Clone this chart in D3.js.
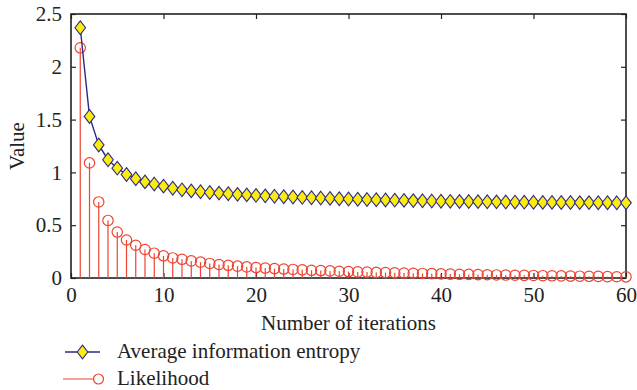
<!DOCTYPE html>
<html>
<head>
<meta charset="utf-8">
<script src="https://cdn.jsdelivr.net/npm/d3@7"></script>
<style>
  body { margin: 0; background: #fff; }
  svg text { font-family: "Liberation Serif", "DejaVu Serif", serif; fill: #222; }
</style>
</head>
<body>
<div id="chart"></div>
<script>
// values, iteration 1..60
var iterations = d3.range(1, 61);
var entropy = [2.37, 1.53, 1.26, 1.12, 1.04, 0.98, 0.94, 0.91, 0.89, 0.87,
               0.85, 0.835, 0.825, 0.817, 0.81, 0.804, 0.798, 0.792, 0.787, 0.782,
               0.778, 0.774, 0.770, 0.767, 0.763, 0.760, 0.757, 0.754, 0.751, 0.748,
               0.746, 0.743, 0.741, 0.739, 0.737, 0.735, 0.733, 0.731, 0.729, 0.727,
               0.726, 0.725, 0.724, 0.723, 0.722, 0.721, 0.720, 0.719, 0.718, 0.717,
               0.716, 0.716, 0.715, 0.715, 0.714, 0.714, 0.713, 0.713, 0.712, 0.712];
var likelihood = [2.18, 1.09, 0.72, 0.545, 0.435, 0.36, 0.31, 0.27, 0.235, 0.21,
                  0.19, 0.177, 0.162, 0.15, 0.138, 0.128, 0.12, 0.112, 0.105, 0.099,
                  0.094, 0.089, 0.085, 0.081, 0.077, 0.073, 0.070, 0.067, 0.064, 0.061,
                  0.058, 0.056, 0.053, 0.051, 0.049, 0.047, 0.045, 0.043, 0.041, 0.039,
                  0.037, 0.035, 0.034, 0.032, 0.031, 0.029, 0.028, 0.026, 0.025, 0.024,
                  0.022, 0.021, 0.020, 0.018, 0.017, 0.016, 0.015, 0.013, 0.012, 0.011];
var xTicks = [0, 10, 20, 30, 40, 50, 60];
var yTicks = [0, 0.5, 1, 1.5, 2, 2.5];
var seriesNames = ["Average information entropy", "Likelihood"];

var width = 637, height = 390;
var margin = {top: 14, right: 11, bottom: 112, left: 71};
var plotW = width - margin.left - margin.right,
    plotH = height - margin.top - margin.bottom;

var blue = "#2c2a86", yellow = "#fbeb0f", red = "#ee4330";
var fs = "21px";

var svg = d3.select("#chart").append("svg")
    .attr("width", width)
    .attr("height", height);

var g = svg.append("g")
    .attr("transform", "translate(" + margin.left + "," + margin.top + ")");

var x = d3.scaleLinear().domain([0, 60]).range([0, plotW]);
var y = d3.scaleLinear().domain([0, 2.5]).range([plotH, 0]);

// axes, ticks inside
function styleAxis(sel, showLabels) {
  sel.select(".domain").remove();
  sel.selectAll(".tick line").attr("stroke", "#222").attr("stroke-width", 1.2);
  sel.selectAll(".tick text")
    .style("font-size", fs)
    .attr("fill", "#222")
    .style("display", showLabels ? null : "none");
}

g.append("g")
  .attr("transform", "translate(0," + plotH + ")")
  .call(d3.axisBottom(x).tickValues(xTicks).tickSize(-5).tickPadding(9))
  .call(styleAxis, true);
g.append("g")
  .call(d3.axisTop(x).tickValues(xTicks).tickSize(-5))
  .call(styleAxis, false);
g.append("g")
  .call(d3.axisLeft(y).tickValues(yTicks).tickFormat(function(d) { return d; })
    .tickSize(-5).tickPadding(9))
  .call(styleAxis, true);
g.append("g")
  .attr("transform", "translate(" + plotW + ",0)")
  .call(d3.axisRight(y).tickValues(yTicks).tickSize(-5))
  .call(styleAxis, false);

// box
g.append("rect")
  .attr("width", plotW).attr("height", plotH)
  .attr("fill", "none").attr("stroke", "#222").attr("stroke-width", 1.6);

// likelihood stems
var like = g.append("g");
like.selectAll("line.stem")
  .data(likelihood)
  .enter().append("line")
  .attr("class", "stem")
  .attr("x1", function(d, i) { return x(iterations[i]); })
  .attr("x2", function(d, i) { return x(iterations[i]); })
  .attr("y1", y(0))
  .attr("y2", function(d) { return y(d); })
  .attr("stroke", red).attr("stroke-width", 1.2);
like.selectAll("circle")
  .data(likelihood)
  .enter().append("circle")
  .attr("cx", function(d, i) { return x(iterations[i]); })
  .attr("cy", function(d) { return y(d); })
  .attr("r", 5.2)
  .attr("fill", "none")
  .attr("stroke", red).attr("stroke-width", 1.2);

// entropy line + diamonds
var line = d3.line()
  .x(function(d, i) { return x(iterations[i]); })
  .y(function(d) { return y(d); });

g.append("path")
  .datum(entropy)
  .attr("d", line)
  .attr("fill", "none")
  .attr("stroke", blue).attr("stroke-width", 1.4);

function diamond(cx, cy) {
  return "M" + cx + "," + (cy - 6.8) + "L" + (cx + 5.3) + "," + cy +
         "L" + cx + "," + (cy + 6.8) + "L" + (cx - 5.3) + "," + cy + "Z";
}

g.selectAll("path.dia")
  .data(entropy)
  .enter().append("path")
  .attr("class", "dia")
  .attr("d", function(d, i) { return diamond(x(iterations[i]), y(d)); })
  .attr("fill", yellow)
  .attr("stroke", blue).attr("stroke-width", 1.1);

// axis titles
svg.append("text")
  .attr("x", margin.left + plotW / 2)
  .attr("y", 330)
  .attr("text-anchor", "middle")
  .style("font-size", fs)
  .text("Number of iterations");

svg.append("text")
  .attr("transform", "translate(24," + (margin.top + plotH / 2) + ") rotate(-90)")
  .attr("text-anchor", "middle")
  .style("font-size", fs)
  .text("Value");

// legend
var leg = svg.append("g");
leg.append("line")
  .attr("x1", 65).attr("x2", 100).attr("y1", 352).attr("y2", 352)
  .attr("stroke", blue).attr("stroke-width", 1.4);
leg.append("path")
  .attr("d", diamond(82.5, 352))
  .attr("fill", yellow).attr("stroke", blue).attr("stroke-width", 1.1);
leg.append("text")
  .attr("x", 117).attr("y", 358)
  .style("font-size", fs)
  .text(seriesNames[0]);

leg.append("line")
  .attr("x1", 63).attr("x2", 98).attr("y1", 379).attr("y2", 379)
  .attr("stroke", red).attr("stroke-width", 1.2);
leg.append("circle")
  .attr("cx", 98.5).attr("cy", 379).attr("r", 5)
  .attr("fill", "#fff").attr("stroke", red).attr("stroke-width", 1.2);
leg.append("text")
  .attr("x", 117).attr("y", 385)
  .style("font-size", fs)
  .text(seriesNames[1]);
</script>
</body>
</html>
